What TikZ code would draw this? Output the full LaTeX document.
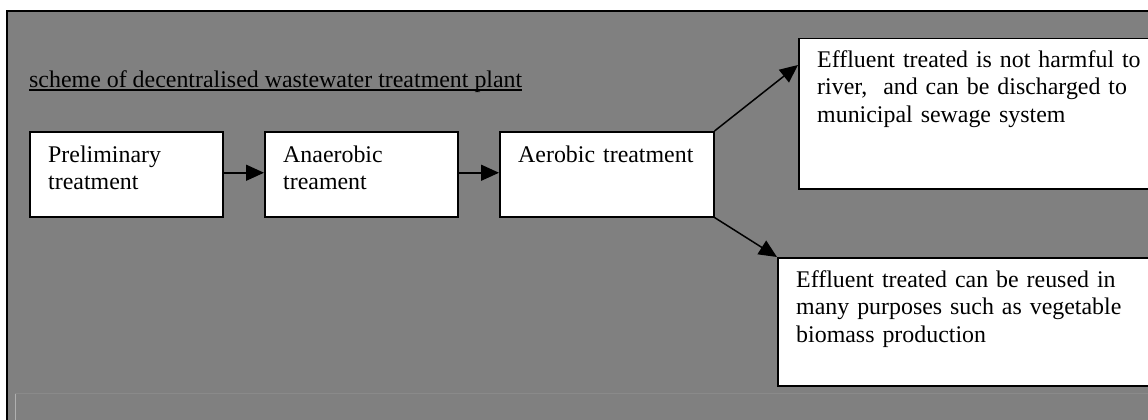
\documentclass[tikz,border=0pt]{standalone}
\usepackage{fontspec}
\setmainfont{Liberation Serif}
\usetikzlibrary{arrows.meta}
\definecolor{bggray}{HTML}{808080}
\tikzset{
  stagebox/.style={draw=black, line width=1.5pt, fill=white, rectangle, inner sep=0pt},
  txt/.style={anchor=base west, inner sep=0pt, text width=420pt, align=left,
              font=\fontsize{23.9}{27.8}\selectfont},
  titletxt/.style={anchor=base west, inner sep=0pt, font=\fontsize{23.9}{27.8}\selectfont},
  flow/.style={line width=1.5pt, -{Triangle[length=18pt,width=16pt]}},
}
\begin{document}
\begin{tikzpicture}[x=1pt,y=-1pt]
\useasboundingbox (0,0) rectangle (1148,420);
\clip (0,0) rectangle (1148,420);
% background panel
\fill[white] (0,0) rectangle (1148,420);
\fill[bggray] (7,11) rectangle (1160,430);
\draw[line width=2.5pt] (7,430) -- (7,11) -- (1160,11);
\draw[color={rgb,255:red,138;green,138;blue,138}, line width=1pt] (15,393.5) -- (1160,393.5);
\draw[color={rgb,255:red,176;green,176;blue,176}, line width=1pt] (15.5,394) -- (15.5,430);
% title
\node[titletxt] (title) at (29,87) {scheme of decentralised wastewater treatment plant};
\draw[line width=2pt] ([yshift=-3pt]title.base west) -- ([yshift=-3pt]title.base east);
% boxes
\node[stagebox, anchor=north west, minimum width=193pt, minimum height=85pt] (pre) at (29,131) {};
\node[stagebox, anchor=north west, minimum width=193pt, minimum height=85pt] (ana) at (264,131) {};
\node[stagebox, anchor=north west, minimum width=214pt, minimum height=85pt] (aer) at (499,131) {};
\node[stagebox, anchor=north west, minimum width=370pt, minimum height=150pt] (out1) at (798,38) {};
\node[stagebox, anchor=north west, minimum width=390pt, minimum height=128pt] (out2) at (777,257) {};
% texts
\node[txt] (tpre) at (48,162) {Preliminary\\treatment};
\node[txt] (tana) at (283,162) {Anaerobic\\treament};
\node[txt] (taer) at (518,162) {Aerobic treatment};
\node[txt] (tout1) at (817,67) {Effluent treated is not harmful to\\river,\ \ and can be discharged to\\municipal sewage system};
\node[txt] (tout2) at (796,287) {Effluent treated can be reused in\\many purposes such as vegetable\\biomass production};
% connectors
\draw[flow] ([yshift=1.5pt]pre.east) -- ([yshift=1.5pt]ana.west);
\draw[flow] ([yshift=1.5pt]ana.east) -- ([yshift=1.5pt]aer.west);
\draw[flow] (aer.north east) -- ([yshift=-27pt]out1.north west);
\draw[flow] (aer.south east) -- (out2.north west);
\end{tikzpicture}
\end{document}
